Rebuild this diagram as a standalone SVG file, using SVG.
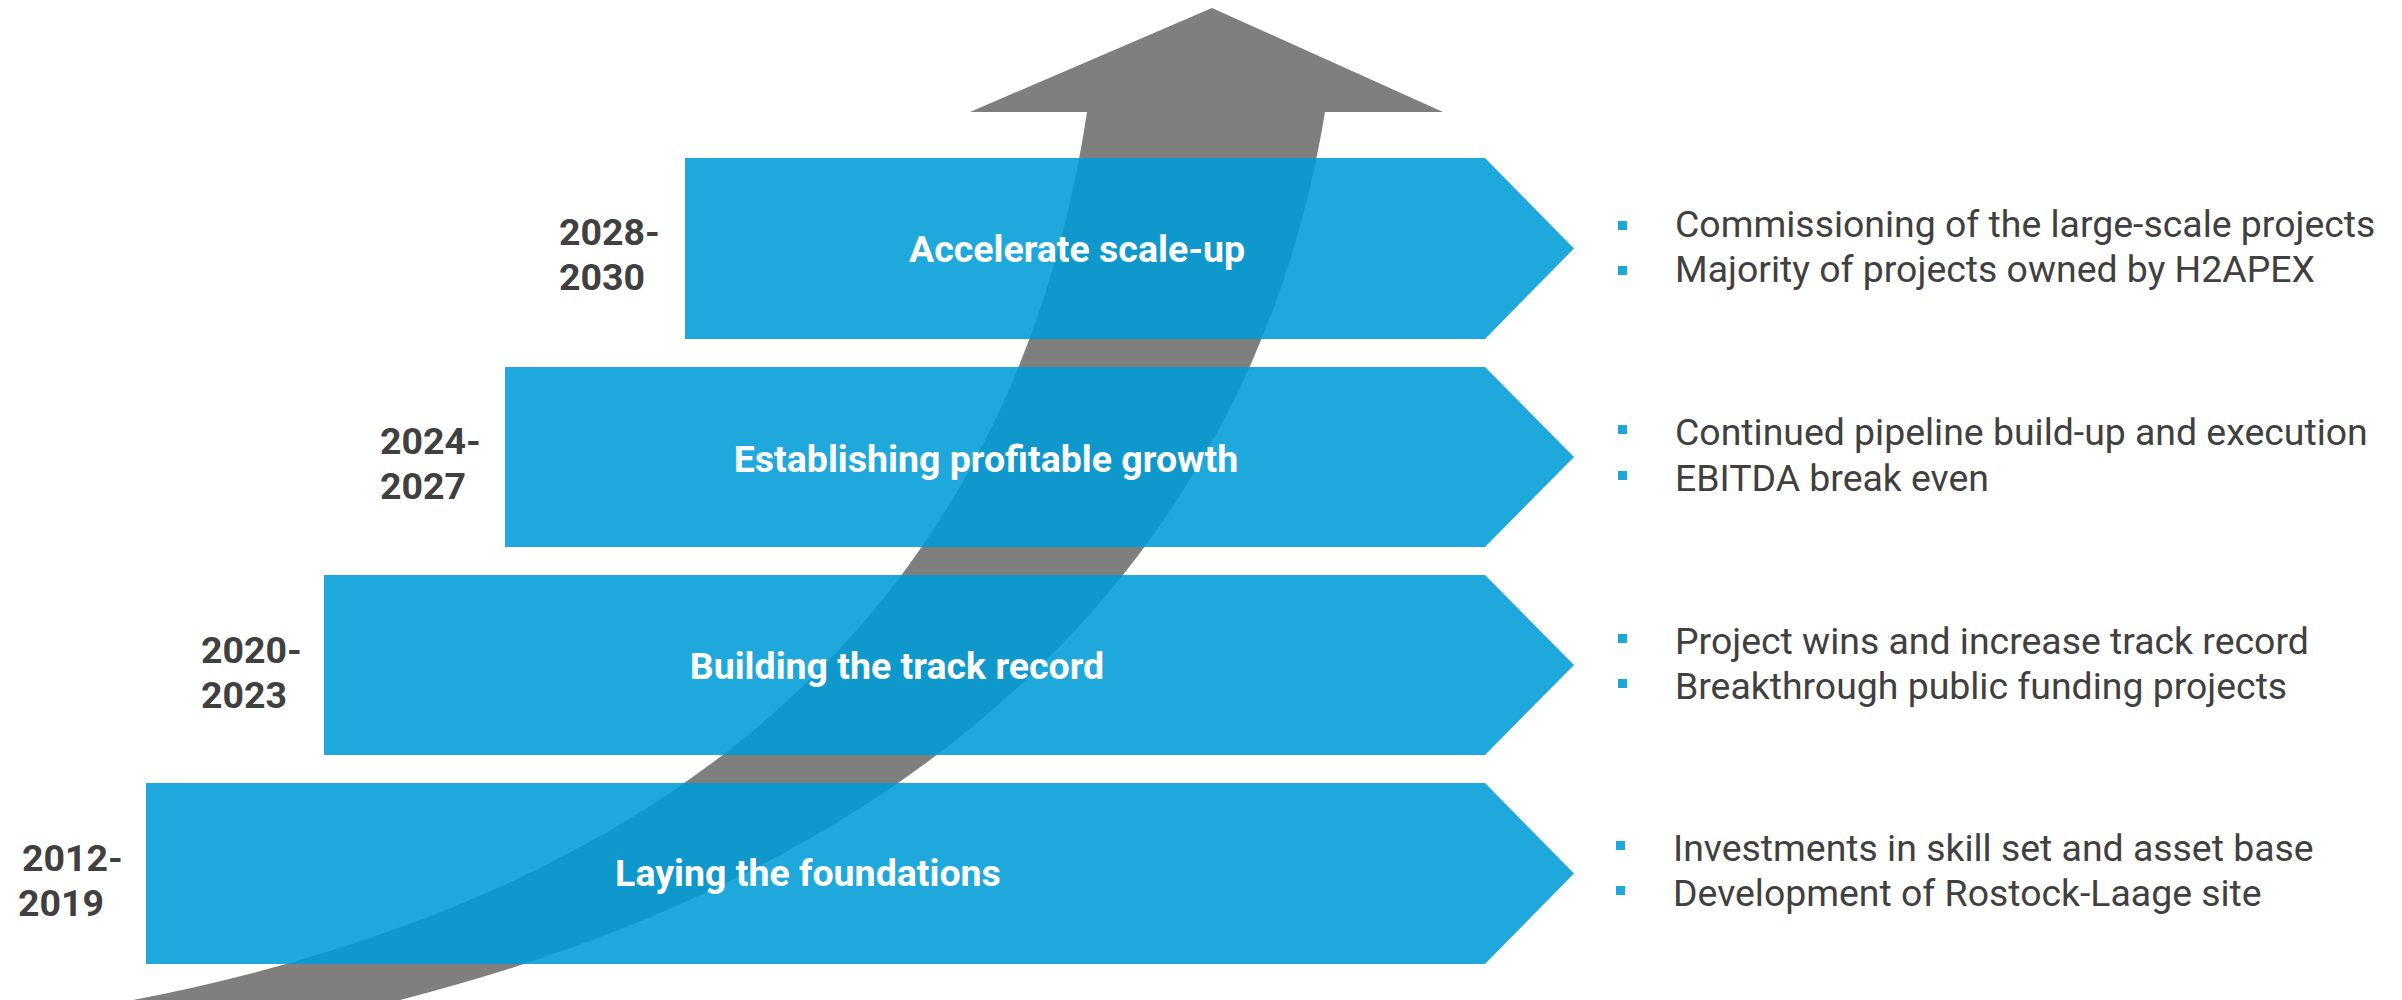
<svg xmlns="http://www.w3.org/2000/svg" width="2402" height="1000" viewBox="0 0 2402 1000">
<style>
.box{fill:#009CD7;fill-opacity:0.88}
.title{font-family:Roboto,"Liberation Sans",sans-serif;font-weight:bold;font-size:37.5px;fill:#FFFFFF;text-anchor:middle}
.year{font-family:Roboto,"Liberation Sans",sans-serif;font-weight:bold;font-size:37.5px;fill:#404040}
.item{font-family:Roboto,"Liberation Sans",sans-serif;font-size:37.4px;fill:#404040}
.bullet{fill:#1DA8DC}
</style>
<rect width="2402" height="1000" fill="#FFFFFF"/>
<g id="arrow">
<path d="M133,1000 C733,884 1020,557 1087,112 L970,112 L1212,8 L1443,112 L1325,112 C1255,540 950,860 400,1000 Z" fill="#7F7F7F"/>
</g>
<g id="stage4">
<polygon class="box" points="146,783 1485,783 1574,873.5 1485,964 146,964"/>
<text class="title" x="808" y="886">Laying the foundations</text>
<text class="year" x="22" y="871">2012-</text>
<text class="year" x="18" y="916">2019</text>
<rect class="bullet" x="1616" y="841" width="9" height="9"/>
<text class="item" x="1673" y="861">Investments in skill set and asset base</text>
<rect class="bullet" x="1616" y="886" width="9" height="9"/>
<text class="item" x="1673" y="906">Development of Rostock-Laage site</text>
</g>
<g id="stage3">
<polygon class="box" points="324,575 1485,575 1574,665 1485,755 324,755"/>
<text class="title" x="897" y="679">Building the track record</text>
<text class="year" x="201" y="663">2020-</text>
<text class="year" x="201" y="708">2023</text>
<rect class="bullet" x="1618" y="634" width="9" height="9"/>
<text class="item" x="1675" y="654">Project wins and increase track record</text>
<rect class="bullet" x="1618" y="679" width="9" height="9"/>
<text class="item" x="1675" y="699">Breakthrough public funding projects</text>
</g>
<g id="stage2">
<polygon class="box" points="505,367 1485,367 1574,457 1485,547 505,547"/>
<text class="title" x="986" y="472">Establishing profitable growth</text>
<text class="year" x="380" y="454">2024-</text>
<text class="year" x="380" y="499">2027</text>
<rect class="bullet" x="1618" y="425" width="9" height="9"/>
<text class="item" x="1675" y="445">Continued pipeline build-up and execution</text>
<rect class="bullet" x="1618" y="471" width="9" height="9"/>
<text class="item" x="1675" y="491">EBITDA break even</text>
</g>
<g id="stage1">
<polygon class="box" points="685,158 1485,158 1574,248.5 1485,339 685,339"/>
<text class="title" x="1077" y="262">Accelerate scale-up</text>
<text class="year" x="559" y="245">2028-</text>
<text class="year" x="559" y="290">2030</text>
<rect class="bullet" x="1618" y="221" width="9" height="9"/>
<text class="item" x="1675" y="237">Commissioning of the large-scale projects</text>
<rect class="bullet" x="1618" y="266" width="9" height="9"/>
<text class="item" x="1675" y="282">Majority of projects owned by H2APEX</text>
</g>
<g id="connectors"></g>
</svg>
